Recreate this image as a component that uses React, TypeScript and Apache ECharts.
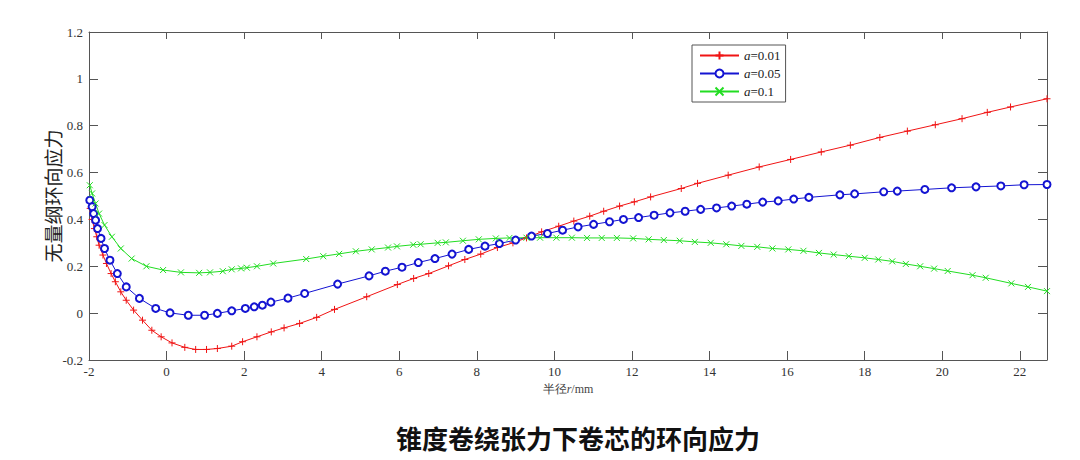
import React, { useEffect, useRef } from "react";
import * as echarts from "echarts";

const redX = [-1.97, -1.92, -1.86, -1.8, -1.74, -1.64, -1.55, -1.43, -1.32, -1.18, -1.04, -0.85, -0.62, -0.38, -0.14, 0.14, 0.47, 0.75, 1.03, 1.31, 1.68, 1.96, 2.33, 2.7, 3.03, 3.43, 3.87, 4.33, 5.16, 5.95, 6.37, 6.76, 7.27, 7.69, 8.1, 8.53, 8.93, 9.28, 9.67, 10.11, 10.5, 10.91, 11.27, 11.68, 12.06, 12.48, 13.27, 13.69, 14.48, 15.28, 16.09, 16.88, 17.63, 18.39, 19.1, 19.82, 20.51, 21.16, 21.76, 22.7];
const redY = [0.447, 0.4, 0.361, 0.326, 0.29, 0.248, 0.212, 0.169, 0.134, 0.091, 0.055, 0.013, -0.03, -0.073, -0.101, -0.127, -0.146, -0.155, -0.155, -0.151, -0.141, -0.122, -0.101, -0.08, -0.063, -0.044, -0.018, 0.016, 0.07, 0.122, 0.148, 0.169, 0.202, 0.229, 0.252, 0.28, 0.3, 0.321, 0.347, 0.371, 0.393, 0.414, 0.435, 0.457, 0.475, 0.496, 0.532, 0.554, 0.589, 0.624, 0.656, 0.688, 0.717, 0.75, 0.777, 0.804, 0.83, 0.857, 0.88, 0.915];

const blueX = [-1.98, -1.92, -1.88, -1.83, -1.78, -1.69, -1.6, -1.46, -1.27, -1.04, -0.7, -0.28, 0.09, 0.56, 0.98, 1.31, 1.68, 2.03, 2.26, 2.47, 2.69, 3.13, 3.56, 4.41, 5.22, 5.64, 6.07, 6.49, 6.92, 7.36, 7.79, 8.21, 8.58, 9.0, 9.41, 9.82, 10.21, 10.61, 11.01, 11.42, 11.78, 12.17, 12.57, 12.98, 13.37, 13.77, 14.18, 14.57, 14.96, 15.37, 15.77, 16.17, 16.56, 17.36, 17.74, 18.49, 18.84, 19.55, 20.24, 20.87, 21.51, 22.11, 22.7];
const blueY = [0.482, 0.454, 0.425, 0.397, 0.361, 0.319, 0.276, 0.226, 0.169, 0.112, 0.063, 0.02, 0.001, -0.009, -0.009, -0.001, 0.01, 0.02, 0.027, 0.034, 0.047, 0.064, 0.084, 0.124, 0.159, 0.179, 0.196, 0.216, 0.233, 0.252, 0.272, 0.286, 0.297, 0.312, 0.329, 0.34, 0.354, 0.368, 0.379, 0.39, 0.4, 0.408, 0.418, 0.428, 0.435, 0.443, 0.449, 0.457, 0.465, 0.474, 0.479, 0.487, 0.494, 0.505, 0.509, 0.518, 0.521, 0.528, 0.535, 0.539, 0.543, 0.548, 0.549];

const greenX = [-1.98, -1.92, -1.83, -1.74, -1.6, -1.41, -1.18, -0.9, -0.52, -0.09, 0.37, 0.84, 1.12, 1.45, 1.68, 1.92, 2.07, 2.33, 2.75, 3.6, 4.04, 4.45, 4.88, 5.29, 5.71, 5.94, 6.36, 6.55, 6.99, 7.2, 7.64, 8.05, 8.49, 8.84, 9.28, 9.63, 10.05, 10.45, 10.84, 11.22, 11.61, 12.03, 12.43, 12.82, 13.23, 13.62, 14.03, 14.43, 14.82, 15.23, 15.62, 16.03, 16.42, 16.82, 17.2, 17.59, 18.0, 18.35, 18.71, 19.06, 19.43, 19.79, 20.14, 20.78, 21.12, 21.78, 22.21, 22.7];
const greenY = [0.546, 0.511, 0.468, 0.425, 0.376, 0.326, 0.276, 0.233, 0.2, 0.184, 0.174, 0.172, 0.174, 0.179, 0.187, 0.191, 0.194, 0.2, 0.212, 0.231, 0.243, 0.253, 0.264, 0.272, 0.28, 0.285, 0.292, 0.294, 0.3, 0.302, 0.309, 0.315, 0.319, 0.321, 0.322, 0.322, 0.322, 0.322, 0.321, 0.321, 0.321, 0.319, 0.315, 0.312, 0.309, 0.304, 0.3, 0.294, 0.287, 0.283, 0.276, 0.272, 0.266, 0.257, 0.25, 0.243, 0.236, 0.229, 0.221, 0.21, 0.2, 0.19, 0.18, 0.162, 0.151, 0.127, 0.112, 0.094];

const seriesNames = ["a=0.01", "a=0.05", "a=0.1"];
const seriesColors = ["#f01414", "#1414d2", "#22dd22"];

const xMin = -2;
const xMax = 22.7;
const xStep = 2;
const yMin = -0.2;
const yMax = 1.2;
const yStep = 0.2;

const titleText = "锥度卷绕张力下卷芯的环向应力";
const yName = "无量纲环向应力";

const zip = (xs: number[], ys: number[]) => xs.map((x, i) => [x, ys[i]]);

const SERIF = "Liberation Serif";
const CJK = "Noto Sans CJK SC";
const AXIS_COLOR = "#555";
const LABEL_COLOR = "#333";

const PLUS = "path://M0,5L10,5M5,0L5,10";
const CROSS = "path://M0,0L10,10M10,0L0,10";

const fmtNum = (v: number) => "{s|" + String(Math.round(v * 10) / 10) + "}";
const labelRich = { s: { fontFamily: SERIF, fontSize: 13, color: LABEL_COLOR } };

export default function App() {
  const ref = useRef<HTMLDivElement>(null);
  useEffect(() => {
    if (!ref.current) return;
    const chart = echarts.init(ref.current, undefined, { renderer: "svg" });
    const baseAxis = {
      axisLine: { show: true, onZero: false, lineStyle: { color: AXIS_COLOR, width: 1 } },
      axisTick: { show: true, inside: true, length: 9, lineStyle: { color: AXIS_COLOR } },
      splitLine: { show: false },
    };
    const mkSeries = (i: number, data: number[][], symbol: string, size: number, bw: number) => ({
      type: "line",
      name: seriesNames[i],
      data,
      xAxisIndex: 0,
      yAxisIndex: 0,
      symbol,
      symbolSize: size,
      showSymbol: true,
      showAllSymbol: true,
      lineStyle: { color: seriesColors[i], width: 1 },
      itemStyle: {
        color: seriesColors[i],
        borderColor: seriesColors[i],
        borderWidth: bw,
      },
      emphasis: { disabled: true },
    });
    chart.setOption({
      animation: false,
      backgroundColor: "#fff",
      textStyle: { fontFamily: SERIF },
      grid: { left: 89, right: 33, top: 32, bottom: 100, containLabel: false },
      xAxis: [
        {
          ...baseAxis,
          type: "value",
          position: "bottom",
          min: xMin,
          max: xMax,
          interval: xStep,
          axisLabel: {
            showMaxLabel: false,
            margin: 5,
            fontFamily: SERIF,
            fontSize: 13,
            color: LABEL_COLOR,
            formatter: fmtNum,
            rich: labelRich,
          },
          name: "半径{i|r}/mm",
          nameLocation: "middle",
          nameGap: 19,
          nameTextStyle: {
            fontFamily: SERIF,
            fontSize: 12,
            color: "#444",
            rich: { i: { fontFamily: SERIF, fontStyle: "italic", fontSize: 12, color: "#444" } },
          },
        },
        {
          ...baseAxis,
          type: "value",
          position: "top",
          min: xMin,
          max: xMax,
          interval: xStep,
          axisTick: { show: true, inside: true, length: 7, lineStyle: { color: AXIS_COLOR } },
          axisLabel: { show: false },
        },
      ],
      yAxis: [
        {
          ...baseAxis,
          type: "value",
          position: "left",
          min: yMin,
          max: yMax,
          interval: yStep,
          axisLabel: {
            margin: 6,
            fontFamily: SERIF,
            fontSize: 13,
            color: LABEL_COLOR,
            formatter: fmtNum,
            rich: labelRich,
          },
          name: yName,
          nameLocation: "middle",
          nameGap: 27,
          nameMoveOverlap: false,
          nameTextStyle: { fontFamily: CJK, fontSize: 19, color: "#222" },
        },
        {
          ...baseAxis,
          type: "value",
          position: "right",
          min: yMin,
          max: yMax,
          interval: yStep,
          axisLabel: { show: false },
        },
      ],
      legend: {
        show: true,
        orient: "vertical",
        left: 692,
        top: 45,
        data: seriesNames,
        itemWidth: 39,
        itemHeight: 10,
        itemGap: 5,
        padding: [4, 5, 4, 7],
        borderColor: "#555",
        borderWidth: 1,
        backgroundColor: "#fff",
        selectedMode: false,
        formatter: (name: string) => "{i|a}" + name.slice(1),
        textStyle: {
          fontFamily: SERIF,
          fontSize: 13,
          color: "#222",
          rich: { i: { fontFamily: SERIF, fontStyle: "italic", fontSize: 13, color: "#222" } },
        },
      },
      series: [
        mkSeries(0, zip(redX, redY), PLUS, 7, 1),
        mkSeries(1, zip(blueX, blueY), "emptyCircle", 7, 0.8),
        mkSeries(2, zip(greenX, greenY), CROSS, 6, 1),
      ],
      graphic: [
        {
          type: "text",
          x: 578,
          y: 437,
          style: {
            text: titleText,
            fontFamily: CJK,
            fontSize: 26,
            fontWeight: "bold",
            fill: "#111",
            textAlign: "center",
            textVerticalAlign: "middle",
          },
        },
      ],
    });
    return () => chart.dispose();
  }, []);
  return (
    <div
      ref={ref}
      style={{ position: "absolute", left: 0, top: 0, width: 1080, height: 460, background: "#fff" }}
    />
  );
}
